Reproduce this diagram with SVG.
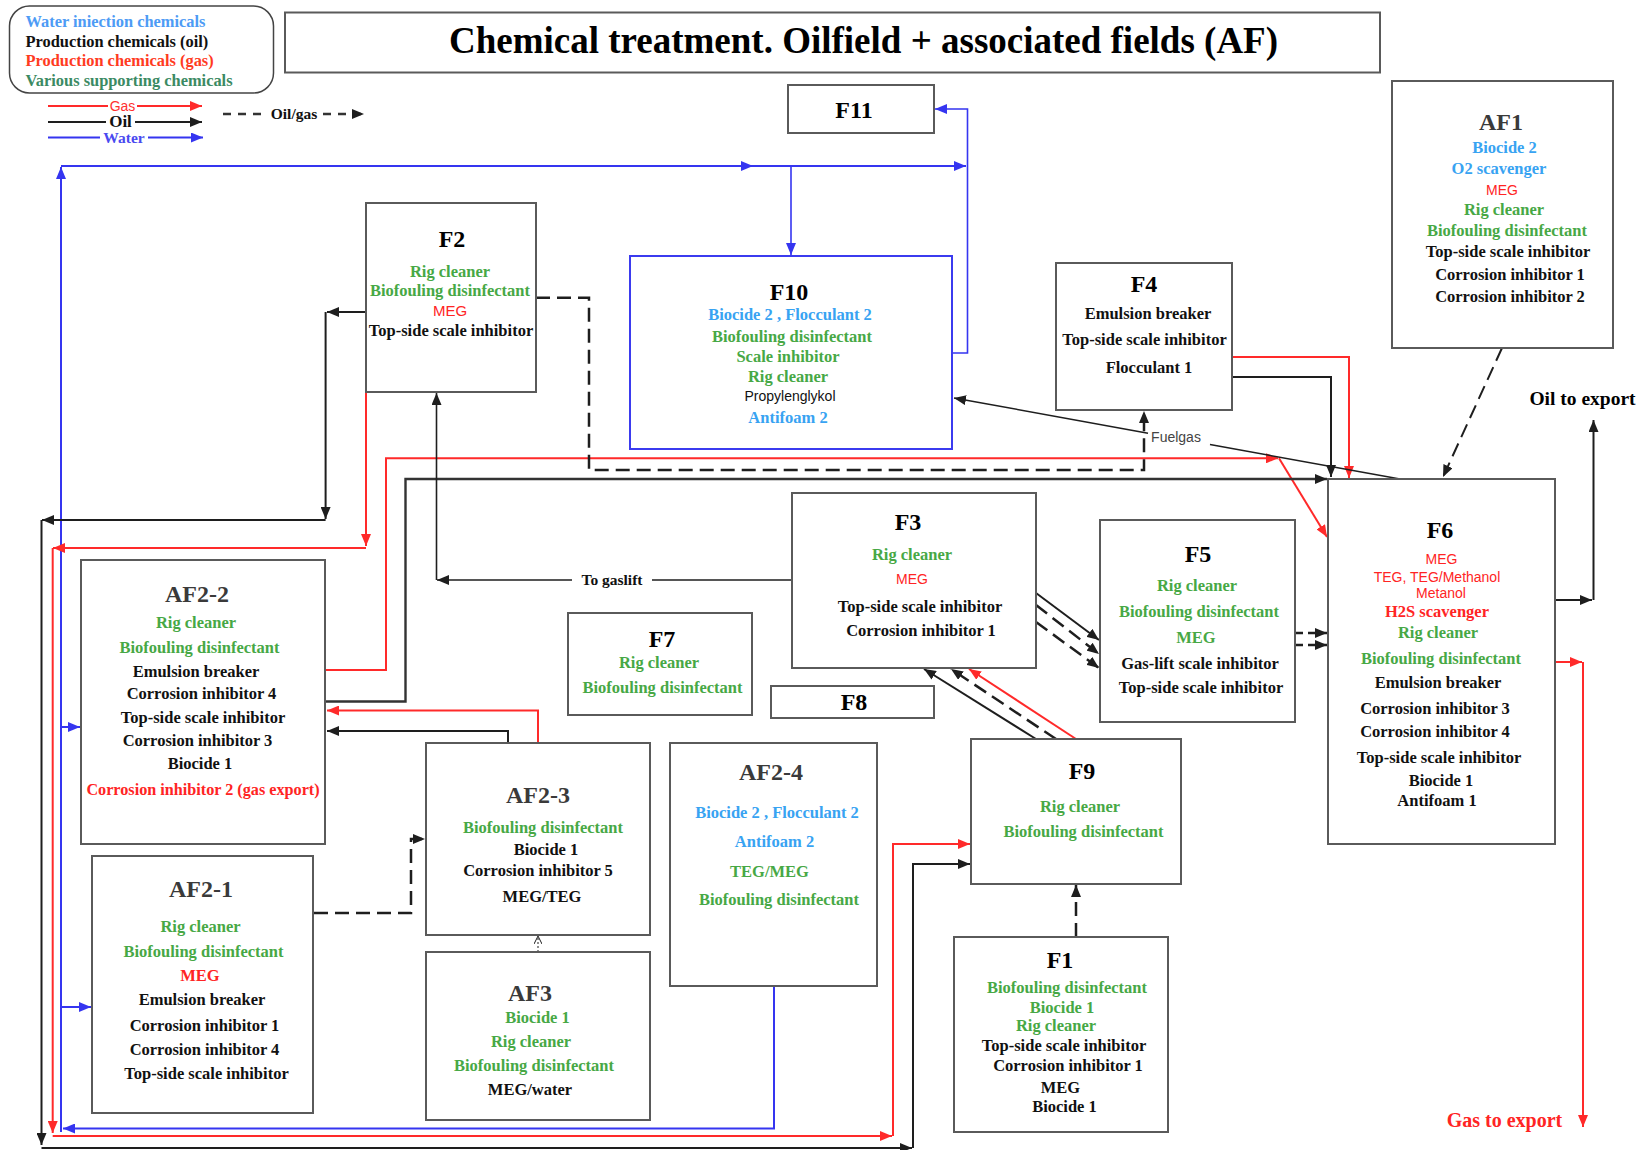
<svg xmlns="http://www.w3.org/2000/svg" width="1647" height="1150" viewBox="0 0 1647 1150">
  <defs>
    <style>
      .box { fill: #ffffff; stroke: #5a5a5a; stroke-width: 2; }
      .boxw { fill: #ffffff; stroke: #3b3bef; stroke-width: 2; }
      .t { font-family: "Liberation Serif", "Times New Roman", serif; font-weight: bold; font-size: 16.5px; text-anchor: middle; }
      .s { font-family: "Liberation Sans", Arial, sans-serif; font-weight: normal; font-size: 14px; text-anchor: middle; }
      .lab { font-size: 24px; fill: #000; }
      .alab { font-size: 24px; fill: #3a3a3a; }
      .k { fill: #111111; }
      .g { fill: #47a845; }
      .bl { fill: #38a3f2; }
      .r { fill: #ff2424; }
      .ln { fill: none; stroke-width: 2; }
      .lk { stroke: #1e1e1e; }
      .lr { stroke: #ff2a2a; }
      .lb { stroke: #3535f0; }
      .dash { fill: none; stroke: #1e1e1e; stroke-width: 2.5; stroke-dasharray: 14 7; }
    </style>
    <marker id="ak" markerUnits="userSpaceOnUse" viewBox="0 0 12 10" refX="12" refY="5" markerWidth="12" markerHeight="10" orient="auto">
      <path d="M0,0 L12,5 L0,10 z" fill="#1e1e1e"/>
    </marker>
    <marker id="ar" markerUnits="userSpaceOnUse" viewBox="0 0 12 10" refX="12" refY="5" markerWidth="12" markerHeight="10" orient="auto">
      <path d="M0,0 L12,5 L0,10 z" fill="#ff2a2a"/>
    </marker>
    <marker id="ab" markerUnits="userSpaceOnUse" viewBox="0 0 12 10" refX="12" refY="5" markerWidth="12" markerHeight="10" orient="auto">
      <path d="M0,0 L12,5 L0,10 z" fill="#3535f0"/>
    </marker>
    <marker id="ao" markerUnits="userSpaceOnUse" viewBox="0 0 8 8" refX="8" refY="4" markerWidth="8" markerHeight="8" orient="auto">
      <path d="M0,0 L8,4 L0,8" fill="none" stroke="#1e1e1e" stroke-width="1"/>
    </marker>
  </defs>

  <rect width="1647" height="1150" fill="#ffffff"/>

  <!-- legend -->
  <g id="legend">
    <rect x="9.5" y="6" width="264" height="87" rx="20" fill="#ffffff" stroke="#444" stroke-width="1.5"/>
    <text class="t" x="25.5" y="27" style="text-anchor:start;font-size:16.4px" fill="#4d9bf5">Water iniection chemicals</text>
    <text class="t" x="25.5" y="46.5" style="text-anchor:start;font-size:16.4px" fill="#111">Production chemicals (oil)</text>
    <text class="t" x="25.5" y="66" style="text-anchor:start;font-size:16.4px" fill="#ff3b1f">Production chemicals (gas)</text>
    <text class="t" x="25.5" y="86" style="text-anchor:start;font-size:16.4px" fill="#3b8a63">Various supporting chemicals</text>

    <path class="ln lr" d="M48,106 H108"/>
    <path class="ln lr" d="M137,106 H202" marker-end="url(#ar)"/>
    <text class="s" x="122.5" y="111" font-size="14" fill="#ff3030">Gas</text>

    <path class="ln lk" d="M48,122 H106"/>
    <path class="ln lk" d="M135,122 H202" marker-end="url(#ak)"/>
    <text class="t" x="120.5" y="127" style="font-size:17px" fill="#111">Oil</text>

    <path class="ln lb" d="M48,137.5 H100"/>
    <path class="ln lb" d="M148,137.5 H203" marker-end="url(#ab)"/>
    <text class="t" x="124" y="142.5" style="font-size:15.5px" fill="#4a4af0">Water</text>

    <path d="M223,114 H265" fill="none" stroke="#333" stroke-width="2.5" stroke-dasharray="8 7"/>
    <path d="M323,114 H364" fill="none" stroke="#333" stroke-width="2.5" stroke-dasharray="8 7" marker-end="url(#ak)"/>
    <text class="t" x="294" y="118.5" style="font-size:15.5px" fill="#111">Oil/gas</text>
  </g>

  <!-- title -->
  <g id="title">
    <rect x="285" y="12.5" width="1095" height="60" fill="#ffffff" stroke="#5a5a5a" stroke-width="2"/>
    <text class="t" x="863.5" y="53" style="font-size:37px" fill="#000">Chemical treatment. Oilfield + associated fields (AF)</text>
  </g>

  <!-- flow lines -->
  <g id="connectors">
    <!-- water -->
    <path class="ln lb" d="M774,986 V1128.5 H63" marker-end="url(#ab)"/>
    <path class="ln lb" d="M61,1132 V167" marker-end="url(#ab)"/>
    <path class="ln lb" d="M61,166 H753" marker-end="url(#ab)"/>
    <path class="ln lb" d="M752,166 H966" marker-end="url(#ab)"/>
    <path class="ln lb" d="M791,166 V255" marker-end="url(#ab)" style="stroke-width:1.6"/>
    <path class="ln lb" d="M952,353 H967.5 V109 H935" marker-end="url(#ab)" style="stroke-width:1.6"/>
    <path class="ln lb" d="M61,727 H80" marker-end="url(#ab)"/>
    <path class="ln lb" d="M61,1007 H91" marker-end="url(#ab)"/>

    <!-- gas -->
    <path class="ln lr" d="M366,392 V546" marker-end="url(#ar)"/>
    <path class="ln lr" d="M366,548 H53" marker-end="url(#ar)"/>
    <path class="ln lr" d="M52.7,548 V1133" marker-end="url(#ar)"/>
    <path class="ln lr" d="M52.7,1136 H892" marker-end="url(#ar)"/>
    <path class="ln lr" d="M893,1136 V844 H970" marker-end="url(#ar)"/>
    <path class="ln lr" d="M325,670 H386 V458.3 H1278" marker-end="url(#ar)"/>
    <path class="ln lr" d="M1279,458.3 L1327,537" marker-end="url(#ar)"/>
    <path class="ln lr" d="M538,743 V710.5 H327" marker-end="url(#ar)"/>
    <path class="ln lr" d="M1232,357 H1349 V478" marker-end="url(#ar)"/>
    <path class="ln lr" d="M1076,739 L969,669" marker-end="url(#ar)"/>
    <path class="ln lr" d="M1555,662 H1582" marker-end="url(#ar)"/>
    <path class="ln lr" d="M1583,662 V1127" marker-end="url(#ar)"/>

    <!-- oil -->
    <path class="ln lk" d="M366,312 H327" marker-end="url(#ak)"/>
    <path class="ln lk" d="M325.6,312 V519" marker-end="url(#ak)"/>
    <path class="ln lk" d="M325.6,520 H42" marker-end="url(#ak)"/>
    <path class="ln lk" d="M41.5,520 V1145" marker-end="url(#ak)"/>
    <path class="ln lk" d="M41.5,1148 H912" marker-end="url(#ak)"/>
    <path class="ln lk" d="M913,1148 V864 H970" marker-end="url(#ak)"/>
    <path class="ln lk" d="M325,701.5 H405.5 V479 H1327" marker-end="url(#ak)" style="stroke-width:2.4;stroke:#333"/>
    <path class="ln lk" d="M508,743 V731 H327" marker-end="url(#ak)"/>
    <path class="ln lk" d="M1232,377 H1331 V477" marker-end="url(#ak)"/>
    <path class="ln lk" d="M792,580 H652" style="stroke-width:1.6"/>
    <path class="ln lk" d="M572,580 H437" marker-end="url(#ak)" style="stroke-width:1.6"/>
    <path class="ln lk" d="M436.5,580 V393" marker-end="url(#ak)" style="stroke-width:1.6"/>
    <path class="ln lk" d="M1400,479 L1210,444.5" style="stroke-width:1.5"/>
    <path class="ln lk" d="M1148,433.2 L954,398" marker-end="url(#ak)" style="stroke-width:1.5"/>
    <path class="ln lk" d="M1036,593 L1099,640" marker-end="url(#ak)"/>
    <path class="ln lk" d="M1036,739 L924,669" marker-end="url(#ak)"/>
    <path class="ln lk" d="M1555,600 H1592" marker-end="url(#ak)"/>
    <path class="ln lk" d="M1593.5,600 V420" marker-end="url(#ak)"/>

    <!-- oil/gas -->
    <path class="dash" d="M536,297.7 H589 V470 H1144 V411" marker-end="url(#ak)"/>
    <path class="dash" d="M1036,605 L1099,654" marker-end="url(#ak)"/>
    <path class="dash" d="M1036,622 L1099,668" marker-end="url(#ak)"/>
    <path class="dash" d="M1056,739 L951,669" marker-end="url(#ak)"/>
    <path class="dash" d="M1295,633 H1327" marker-end="url(#ak)" style="stroke-dasharray:8 5"/>
    <path class="dash" d="M1295,645 H1327" marker-end="url(#ak)" style="stroke-dasharray:8 5"/>
    <path class="dash" d="M1502,348 L1443,477" marker-end="url(#ak)" style="stroke-width:2"/>
    <path class="dash" d="M1076,937 V885" marker-end="url(#ak)"/>
    <path class="dash" d="M314,913 H411 V839 H425" marker-end="url(#ak)"/>
    <path d="M538,952 V936" fill="none" stroke="#1e1e1e" stroke-width="1" stroke-dasharray="2 2" marker-end="url(#ao)"/>

    <!-- line labels -->
    <text class="t" x="612" y="585" style="font-size:15.5px" fill="#111">To gaslift</text>
    <text class="s" x="1176" y="442" fill="#444">Fuelgas</text>
  </g>

  <!-- export labels -->
  <g id="oil-export">
    <text class="t" x="1582.5" y="405" style="font-size:19.5px" fill="#000">Oil to export</text>
  </g>
  <g id="gas-export">
    <text class="t r" x="1504.5" y="1126.5" style="font-size:20px">Gas to export</text>
  </g>

  <!-- nodes -->
  <g id="f11">
    <rect class="box" x="788" y="85" width="146" height="48"/>
    <text class="t lab" x="854" y="117.5">F11</text>
  </g>

  <g id="f2">
    <rect class="box" x="366" y="203" width="170" height="189"/>
    <text class="t lab" x="452" y="247">F2</text>
    <text class="t g" x="450" y="277">Rig cleaner</text>
    <text class="t g" x="450" y="296">Biofouling disinfectant</text>
    <text class="s r" x="450" y="316" style="font-size:15px">MEG</text>
    <text class="t k" x="451" y="336">Top-side scale inhibitor</text>
  </g>

  <g id="f10">
    <rect class="boxw" x="630" y="256" width="322" height="193"/>
    <text class="t lab" x="789" y="300">F10</text>
    <text class="t bl" x="790" y="320">Biocide 2 , Flocculant 2</text>
    <text class="t g" x="792" y="341.5">Biofouling disinfectant</text>
    <text class="t g" x="788" y="361.5">Scale inhibitor</text>
    <text class="t g" x="788" y="381.5">Rig cleaner</text>
    <text class="s k" x="790" y="401">Propylenglykol</text>
    <text class="t bl" x="788" y="422.5">Antifoam 2</text>
  </g>

  <g id="f4">
    <rect class="box" x="1056" y="263" width="176" height="147"/>
    <text class="t lab" x="1144" y="291.5">F4</text>
    <text class="t k" x="1148" y="319">Emulsion breaker</text>
    <text class="t k" x="1144.5" y="345">Top-side scale inhibitor</text>
    <text class="t k" x="1149" y="373">Flocculant 1</text>
  </g>

  <g id="af1">
    <rect class="box" x="1392" y="81" width="221" height="267"/>
    <text class="t alab" x="1501" y="130">AF1</text>
    <text class="t bl" x="1504.5" y="153">Biocide 2</text>
    <text class="t bl" x="1499" y="174">O2 scavenger</text>
    <text class="s r" x="1502" y="195">MEG</text>
    <text class="t g" x="1504" y="215">Rig cleaner</text>
    <text class="t g" x="1507" y="235.5">Biofouling disinfectant</text>
    <text class="t k" x="1508" y="257">Top-side scale inhibitor</text>
    <text class="t k" x="1510" y="280">Corrosion inhibitor 1</text>
    <text class="t k" x="1510" y="301.5">Corrosion inhibitor 2</text>
  </g>

  <g id="f3">
    <rect class="box" x="792" y="493" width="244" height="175"/>
    <text class="t lab" x="908" y="530">F3</text>
    <text class="t g" x="912" y="560">Rig cleaner</text>
    <text class="s r" x="912" y="584">MEG</text>
    <text class="t k" x="920" y="611.5">Top-side scale inhibitor</text>
    <text class="t k" x="921" y="635.5">Corrosion inhibitor 1</text>
  </g>

  <g id="f5">
    <rect class="box" x="1100" y="520" width="195" height="202"/>
    <text class="t lab" x="1198" y="561.5">F5</text>
    <text class="t g" x="1197" y="590.5">Rig cleaner</text>
    <text class="t g" x="1199" y="616.5">Biofouling disinfectant</text>
    <text class="t g" x="1196" y="643">MEG</text>
    <text class="t k" x="1200" y="669">Gas-lift scale inhibitor</text>
    <text class="t k" x="1201" y="692.5">Top-side scale inhibitor</text>
  </g>

  <g id="f6">
    <rect class="box" x="1328" y="479" width="227" height="365"/>
    <text class="t lab" x="1440" y="538">F6</text>
    <text class="s r" x="1441.5" y="564">MEG</text>
    <text class="s r" x="1437" y="581.5">TEG, TEG/Methanol</text>
    <text class="s r" x="1441" y="597.5">Metanol</text>
    <text class="t r" x="1437" y="616.5">H2S scavenger</text>
    <text class="t g" x="1438" y="638">Rig cleaner</text>
    <text class="t g" x="1441" y="664">Biofouling disinfectant</text>
    <text class="t k" x="1438" y="688">Emulsion breaker</text>
    <text class="t k" x="1435" y="714">Corrosion inhibitor 3</text>
    <text class="t k" x="1435" y="737">Corrosion inhibitor 4</text>
    <text class="t k" x="1439" y="762.5">Top-side scale inhibitor</text>
    <text class="t k" x="1441" y="785.5">Biocide 1</text>
    <text class="t k" x="1437" y="805.5">Antifoam 1</text>
  </g>

  <g id="f7">
    <rect class="box" x="568" y="613" width="184" height="102"/>
    <text class="t lab" x="662" y="646.5">F7</text>
    <text class="t g" x="659" y="668">Rig cleaner</text>
    <text class="t g" x="662.5" y="692.5">Biofouling disinfectant</text>
  </g>

  <g id="f8">
    <rect class="box" x="771" y="686" width="163" height="32"/>
    <text class="t lab" x="854" y="710">F8</text>
  </g>

  <g id="f9">
    <rect class="box" x="971" y="739" width="210" height="145"/>
    <text class="t lab" x="1082" y="779">F9</text>
    <text class="t g" x="1080" y="811.5">Rig cleaner</text>
    <text class="t g" x="1083.5" y="836.5">Biofouling disinfectant</text>
  </g>

  <g id="f1">
    <rect class="box" x="954" y="937" width="214" height="195"/>
    <text class="t lab" x="1060" y="968">F1</text>
    <text class="t g" x="1067" y="993">Biofouling disinfectant</text>
    <text class="t g" x="1062" y="1012.5">Biocide 1</text>
    <text class="t g" x="1056" y="1030.5">Rig cleaner</text>
    <text class="t k" x="1064" y="1051">Top-side scale inhibitor</text>
    <text class="t k" x="1068" y="1071">Corrosion inhibitor 1</text>
    <text class="t k" x="1060.5" y="1092.5">MEG</text>
    <text class="t k" x="1064.5" y="1111.5">Biocide 1</text>
  </g>

  <g id="af2-2">
    <rect class="box" x="81" y="560" width="244" height="284"/>
    <text class="t alab" x="197" y="601.5">AF2-2</text>
    <text class="t g" x="196" y="628">Rig cleaner</text>
    <text class="t g" x="199.5" y="653">Biofouling disinfectant</text>
    <text class="t k" x="196" y="677">Emulsion breaker</text>
    <text class="t k" x="201.5" y="699">Corrosion inhibitor 4</text>
    <text class="t k" x="203" y="723">Top-side scale inhibitor</text>
    <text class="t k" x="197.5" y="746">Corrosion inhibitor 3</text>
    <text class="t k" x="200" y="769">Biocide 1</text>
    <text class="t r" x="203" y="795" style="font-size:16.2px">Corrosion inhibitor 2 (gas export)</text>
  </g>

  <g id="af2-1">
    <rect class="box" x="92" y="856" width="221" height="257"/>
    <text class="t alab" x="201" y="896.5">AF2-1</text>
    <text class="t g" x="200.5" y="931.5">Rig cleaner</text>
    <text class="t g" x="203.5" y="956.5">Biofouling disinfectant</text>
    <text class="t r" x="200" y="980.5">MEG</text>
    <text class="t k" x="202" y="1005">Emulsion breaker</text>
    <text class="t k" x="204.5" y="1030.5">Corrosion inhibitor 1</text>
    <text class="t k" x="204.5" y="1055">Corrosion inhibitor 4</text>
    <text class="t k" x="206.5" y="1079">Top-side scale inhibitor</text>
  </g>

  <g id="af2-3">
    <rect class="box" x="426" y="743" width="224" height="192"/>
    <text class="t alab" x="538" y="803">AF2-3</text>
    <text class="t g" x="543" y="833">Biofouling disinfectant</text>
    <text class="t k" x="546" y="855">Biocide 1</text>
    <text class="t k" x="538" y="876">Corrosion inhibitor 5</text>
    <text class="t k" x="542" y="902">MEG/TEG</text>
  </g>

  <g id="af3">
    <rect class="box" x="426" y="952" width="224" height="168"/>
    <text class="t alab" x="530" y="1000.5">AF3</text>
    <text class="t g" x="537.5" y="1023">Biocide 1</text>
    <text class="t g" x="531" y="1046.5">Rig cleaner</text>
    <text class="t g" x="534" y="1071">Biofouling disinfectant</text>
    <text class="t k" x="530" y="1095">MEG/water</text>
  </g>

  <g id="af2-4">
    <rect class="box" x="670" y="743" width="207" height="243"/>
    <text class="t alab" x="771" y="780">AF2-4</text>
    <text class="t bl" x="777" y="818">Biocide 2 , Flocculant 2</text>
    <text class="t bl" x="774.5" y="846.5">Antifoam 2</text>
    <text class="t g" x="769.5" y="876.5">TEG/MEG</text>
    <text class="t g" x="779" y="905">Biofouling disinfectant</text>
  </g>
</svg>
